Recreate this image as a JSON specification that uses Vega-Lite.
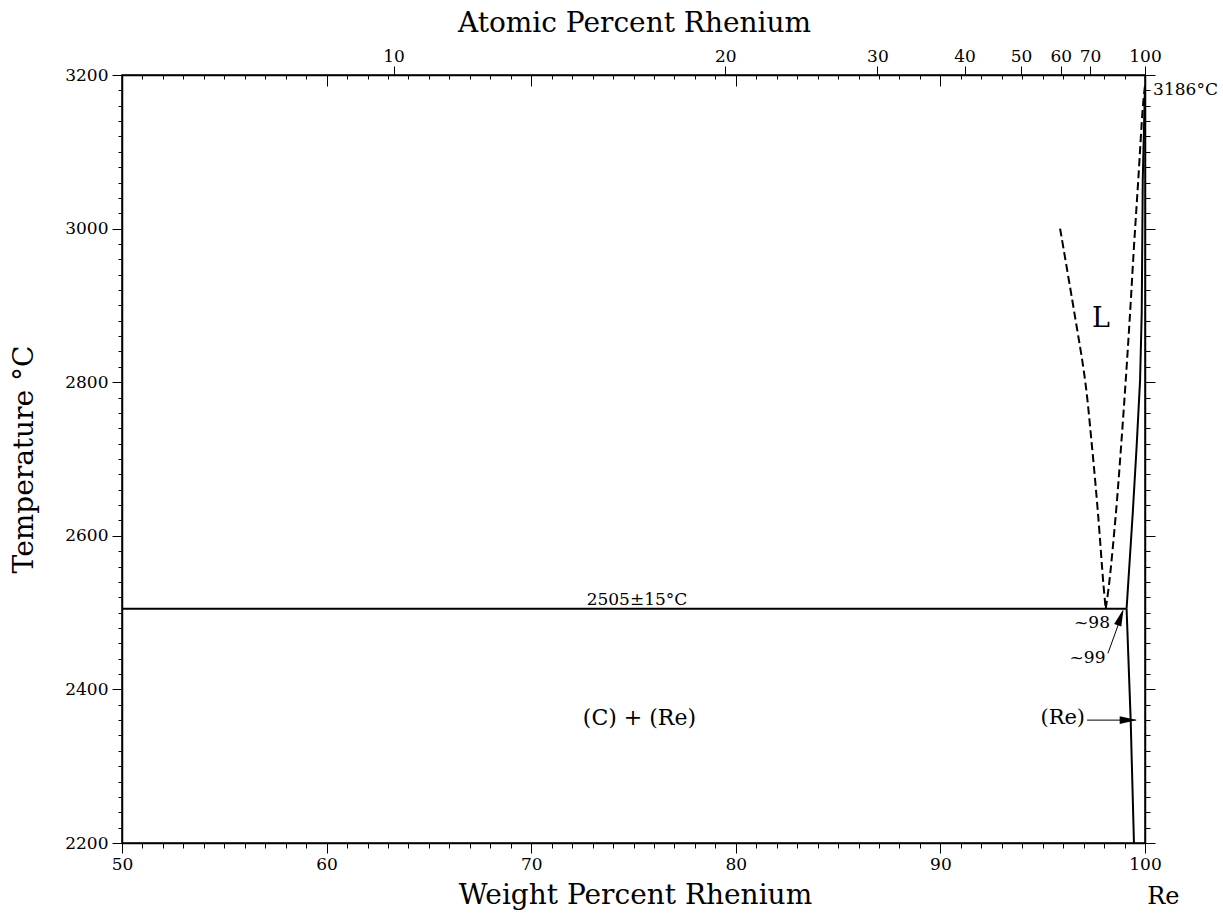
{
  "$schema": "https://vega.github.io/schema/vega-lite/v6.json",
  "width": 1023,
  "height": 768,
  "autosize": {"type": "none"},
  "padding": {"left": 122, "top": 75, "right": 78, "bottom": 70},
  "background": "white",
  "datasets": {
    "lines": [
      {"s": "eutectic", "k": "solid", "o": 1, "w": 50, "t": 2505},
      {"s": "eutectic", "k": "solid", "o": 2, "w": 99.1, "t": 2505},
      {"s": "solvus", "k": "solid", "o": 1, "w": 99.1, "t": 2505},
      {"s": "solvus", "k": "solid", "o": 2, "w": 99.3, "t": 2360},
      {"s": "solvus", "k": "solid", "o": 3, "w": 99.46, "t": 2200},
      {"s": "solidus", "k": "solid", "o": 1, "w": 99.1, "t": 2505},
      {"s": "solidus", "k": "solid", "o": 2, "w": 99.4, "t": 2629},
      {"s": "solidus", "k": "solid", "o": 3, "w": 99.59, "t": 2716},
      {"s": "solidus", "k": "solid", "o": 4, "w": 99.76, "t": 2803},
      {"s": "solidus", "k": "solid", "o": 5, "w": 99.84, "t": 2890},
      {"s": "solidus", "k": "solid", "o": 6, "w": 99.89, "t": 3063},
      {"s": "solidus", "k": "solid", "o": 7, "w": 100, "t": 3186},
      {"s": "liqL", "k": "dashed", "o": 1, "w": 95.85, "t": 3000},
      {"s": "liqL", "k": "dashed", "o": 2, "w": 96.55, "t": 2890},
      {"s": "liqL", "k": "dashed", "o": 3, "w": 97.07, "t": 2803},
      {"s": "liqL", "k": "dashed", "o": 4, "w": 97.41, "t": 2716},
      {"s": "liqL", "k": "dashed", "o": 5, "w": 97.7, "t": 2630},
      {"s": "liqL", "k": "dashed", "o": 6, "w": 97.97, "t": 2536},
      {"s": "liqL", "k": "dashed", "o": 7, "w": 98.08, "t": 2505},
      {"s": "liqR", "k": "dashed", "o": 1, "w": 98.08, "t": 2505},
      {"s": "liqR", "k": "dashed", "o": 2, "w": 98.24, "t": 2536},
      {"s": "liqR", "k": "dashed", "o": 3, "w": 98.58, "t": 2630},
      {"s": "liqR", "k": "dashed", "o": 4, "w": 98.83, "t": 2716},
      {"s": "liqR", "k": "dashed", "o": 5, "w": 99.06, "t": 2803},
      {"s": "liqR", "k": "dashed", "o": 6, "w": 99.27, "t": 2890},
      {"s": "liqR", "k": "dashed", "o": 7, "w": 99.46, "t": 2976},
      {"s": "liqR", "k": "dashed", "o": 8, "w": 99.67, "t": 3063},
      {"s": "liqR", "k": "dashed", "o": 9, "w": 99.9, "t": 3160},
      {"s": "liqR", "k": "dashed", "o": 10, "w": 100, "t": 3186},
      {"s": "lead99", "k": "thin", "o": 1, "w": 98.19, "t": 2447},
      {"s": "lead99", "k": "thin", "o": 2, "w": 98.92, "t": 2501},
      {"s": "leadRe", "k": "thin", "o": 1, "w": 97.17, "t": 2360},
      {"s": "leadRe", "k": "thin", "o": 2, "w": 99.55, "t": 2360}
    ],
    "heads": [
      {"w": 98.95, "t": 2504.7, "a": 19.4},
      {"w": 99.61, "t": 2360, "a": 90}
    ],
    "serifText": [
      {"label": "2505±15°C", "w": 75.17, "t": 2510},
      {"label": "~98", "w": 97.41, "t": 2480},
      {"label": "~99", "w": 97.19, "t": 2434},
      {"label": "3186°C", "w": 101.98, "t": 3174}
    ],
    "bigText": [
      {"label": "(C) + (Re)", "w": 75.29, "t": 2353.6, "f": 22},
      {"label": "(Re)", "w": 95.98, "t": 2355, "f": 21},
      {"label": "L", "w": 97.85, "t": 2872.5, "f": 27},
      {"label": "Re", "w": 100.9, "t": 2120, "f": 24}
    ]
  },
  "config": {
    "view": {"stroke": "black", "strokeWidth": 1.5},
    "axis": {
      "labelFont": "DejaVu Serif",
      "labelFontSize": 17,
      "labelColor": "black",
      "tickColor": "black",
      "tickWidth": 1,
      "domainColor": "black",
      "domainWidth": 1.5,
      "titleFont": "DejaVu Serif",
      "titleFontSize": 28,
      "titleFontWeight": "normal",
      "titleColor": "black",
      "grid": false,
      "labelOverlap": false,
      "labelFlush": false,
      "format": "d"
    }
  },
  "resolve": {"axis": {"x": "independent", "y": "independent"}},
  "layer": [
    {
      "data": {"name": "lines"},
      "transform": [{"filter": "datum.k === 'solid'"}],
      "mark": {"type": "line", "color": "black", "strokeWidth": 2},
      "encoding": {
        "x": {"field": "w", "type": "quantitative", "scale": {"domain": [50, 100], "nice": false, "zero": false},
          "axis": {"orient": "bottom", "values": [50, 60, 70, 80, 90, 100], "tickSize": 10, "labelPadding": 3,
            "title": "Weight Percent Rhenium", "titleX": 513, "titleY": 60, "titleBaseline": "alphabetic", "titleAlign": "center"}},
        "y": {"field": "t", "type": "quantitative", "scale": {"domain": [2200, 3200], "nice": false, "zero": false},
          "axis": {"orient": "left", "values": [2200, 2400, 2600, 2800, 3000, 3200], "tickSize": 10, "labelPadding": 4,
            "title": "Temperature °C", "titleX": -90, "titleY": 384, "titleAngle": -90, "titleBaseline": "alphabetic", "titleAlign": "center"}},
        "detail": {"field": "s"},
        "order": {"field": "o", "type": "quantitative"}
      }
    },
    {
      "data": {"name": "lines"},
      "transform": [{"filter": "datum.k === 'dashed'"}],
      "mark": {"type": "line", "color": "black", "strokeWidth": 2, "strokeDash": [8, 4], "interpolate": "catmull-rom"},
      "encoding": {
        "x": {"field": "w", "type": "quantitative", "scale": {"domain": [50, 100], "nice": false, "zero": false},
          "axis": {"orient": "bottom", "values": [50,51,52,53,54,55,56,57,58,59,60,61,62,63,64,65,66,67,68,69,70,71,72,73,74,75,76,77,78,79,80,81,82,83,84,85,86,87,88,89,90,91,92,93,94,95,96,97,98,99,100],
            "tickSize": 5, "labels": false, "title": null, "domain": false}},
        "y": {"field": "t", "type": "quantitative", "scale": {"domain": [2200, 3200], "nice": false, "zero": false},
          "axis": {"orient": "left", "values": [2200,2220,2240,2260,2280,2300,2320,2340,2360,2380,2400,2420,2440,2460,2480,2500,2520,2540,2560,2580,2600,2620,2640,2660,2680,2700,2720,2740,2760,2780,2800,2820,2840,2860,2880,2900,2920,2940,2960,2980,3000,3020,3040,3060,3080,3100,3120,3140,3160,3180,3200],
            "tickSize": 4, "labels": false, "title": null, "domain": false}},
        "detail": {"field": "s"},
        "order": {"field": "o", "type": "quantitative"}
      }
    },
    {
      "data": {"name": "lines"},
      "transform": [{"filter": "datum.k === 'thin'"}],
      "mark": {"type": "line", "color": "black", "strokeWidth": 1},
      "encoding": {
        "x": {"field": "w", "type": "quantitative", "scale": {"domain": [50, 100], "nice": false, "zero": false},
          "axis": {"orient": "top", "values": [63.27, 79.49, 86.92, 91.18, 93.94, 95.88, 97.31, 100], "tickSize": 9, "labelPadding": 1,
            "labelExpr": "datum.value < 70 ? '10' : datum.value < 82 ? '20' : datum.value < 89 ? '30' : datum.value < 92.5 ? '40' : datum.value < 95 ? '50' : datum.value < 96.5 ? '60' : datum.value < 99 ? '70' : '100'",
            "title": "Atomic Percent Rhenium", "titleX": 512, "titleY": -44, "titleBaseline": "alphabetic", "titleAlign": "center"}},
        "y": {"field": "t", "type": "quantitative", "scale": {"domain": [2200, 3200], "nice": false, "zero": false},
          "axis": {"orient": "right", "values": [2200, 2400, 2600, 2800, 3000, 3200], "tickSize": 10, "labels": false, "title": null}},
        "detail": {"field": "s"},
        "order": {"field": "o", "type": "quantitative"}
      }
    },
    {
      "data": {"name": "heads"},
      "mark": {"type": "point", "filled": true, "opacity": 1, "color": "black", "shape": "M0,0L-0.44,2L0.44,2Z", "size": 300},
      "encoding": {
        "x": {"field": "w", "type": "quantitative", "scale": {"domain": [50, 100], "nice": false, "zero": false},
          "axis": {"orient": "top", "values": [50,51,52,53,54,55,56,57,58,59,60,61,62,63,64,65,66,67,68,69,70,71,72,73,74,75,76,77,78,79,80,81,82,83,84,85,86,87,88,89,90,91,92,93,94,95,96,97,98,99,100],
            "tickSize": -4, "labels": false, "title": null, "domain": false}},
        "y": {"field": "t", "type": "quantitative", "scale": {"domain": [2200, 3200], "nice": false, "zero": false},
          "axis": {"orient": "right", "values": [2200,2220,2240,2260,2280,2300,2320,2340,2360,2380,2400,2420,2440,2460,2480,2500,2520,2540,2560,2580,2600,2620,2640,2660,2680,2700,2720,2740,2760,2780,2800,2820,2840,2860,2880,2900,2920,2940,2960,2980,3000,3020,3040,3060,3080,3100,3120,3140,3160,3180,3200],
            "tickSize": 5, "labels": false, "title": null, "domain": false}},
        "angle": {"field": "a", "type": "quantitative", "scale": null}
      }
    },
    {
      "data": {"name": "serifText"},
      "mark": {"type": "text", "font": "DejaVu Serif", "fontSize": 17, "color": "black", "align": "center", "baseline": "alphabetic"},
      "encoding": {
        "x": {"field": "w", "type": "quantitative", "scale": {"domain": [50, 100], "nice": false, "zero": false},
          "axis": {"orient": "top", "values": [50, 60, 70, 80, 90, 100], "tickSize": -11, "labels": false, "title": null, "domain": false}},
        "y": {"field": "t", "type": "quantitative", "scale": {"domain": [2200, 3200], "nice": false, "zero": false}, "axis": null},
        "text": {"field": "label"}
      }
    },
    {
      "data": {"name": "bigText"},
      "mark": {"type": "text", "font": "DejaVu Serif", "color": "black", "align": "center", "baseline": "alphabetic"},
      "encoding": {
        "x": {"field": "w", "type": "quantitative", "scale": {"domain": [50, 100], "nice": false, "zero": false}, "axis": null},
        "y": {"field": "t", "type": "quantitative", "scale": {"domain": [2200, 3200], "nice": false, "zero": false}, "axis": null},
        "size": {"field": "f", "type": "quantitative", "scale": null},
        "text": {"field": "label"}
      }
    }
  ]
}
